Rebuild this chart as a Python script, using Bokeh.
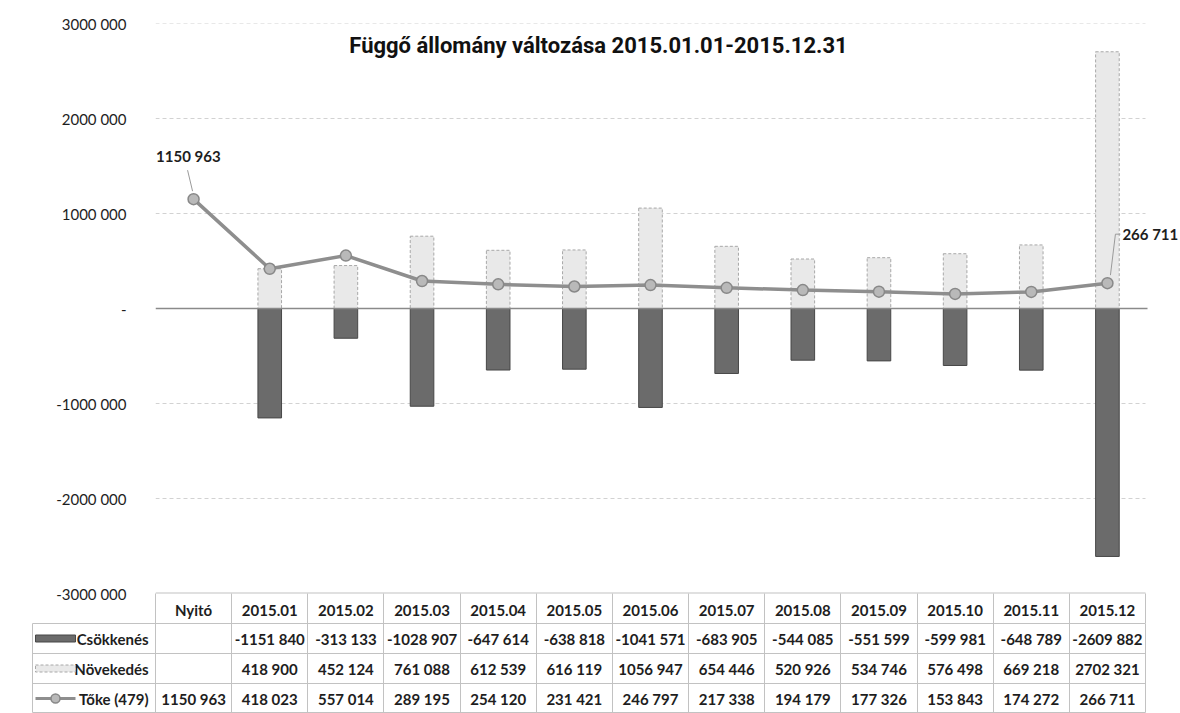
from bokeh.plotting import figure
from bokeh.models import FixedTicker, Range1d, Label, ColumnDataSource
from bokeh.embed import file_html
from bokeh.resources import INLINE
from bokeh.core.properties import value

# ---------------- data ----------------
categories = ["Nyitó", "2015.01", "2015.02", "2015.03", "2015.04", "2015.05", "2015.06",
              "2015.07", "2015.08", "2015.09", "2015.10", "2015.11", "2015.12"]
csokkenes = [None, -1151840, -313133, -1028907, -647614, -638818, -1041571,
             -683905, -544085, -551599, -599981, -648789, -2609882]
novekedes = [None, 418900, 452124, 761088, 612539, 616119, 1056947,
             654446, 520926, 534746, 576498, 669218, 2702321]
toke = [1150963, 418023, 557014, 289195, 254120, 231421, 246797,
        217338, 194179, 177326, 153843, 174272, 266711]
y_ticks = [-3000000, -2000000, -1000000, 0, 1000000, 2000000, 3000000]
y_tick_labels = ["-3000 000", "-2000 000", "-1000 000", "-", "1000 000", "2000 000", "3000 000"]
series_names = ["Csökkenés", "Növekedés", "Tőke (479)"]
title_text = "Függő állomány változása 2015.01.01-2015.12.31"


def fmt(v):
    if v is None:
        return ""
    s = "-" if v < 0 else ""
    a = abs(v)
    if a >= 1000:
        return f"{s}{a // 1000} {a % 1000:03d}"
    return f"{s}{a}"


# ---------------- layout constants ----------------
W = 1180
FRAME_L = 155          # left edge of category area
CAT_R = 1145           # right edge of category area
FRAME_T = 23
FRAME_B = 593
HEAD_H = 30            # header row (x-axis labels)
CHART_H = FRAME_B + HEAD_H
TABLE_H = 713 - CHART_H
LEG_L = 32
N = len(categories)
PX_CAT = (CAT_R - FRAME_L) / N
FRAME_H = FRAME_B - FRAME_T
Y0, Y1 = y_ticks[0], y_ticks[-1]
PX_VAL = FRAME_H / (Y1 - Y0)
X_END = -0.5 + (W - FRAME_L) / PX_CAT

FONT = "Lato"
TITLE_FONT = "Roboto"
TXT = "#1e1e1e"
BORDER = "#c2c2c2"

idx = list(range(N))
months = [i for i in idx if novekedes[i] is not None]
bar_src = ColumnDataSource(dict(
    x=months,
    nov=[novekedes[i] for i in months],
    cs=[csokkenes[i] for i in months],
))

# ---------------- chart ----------------
p = figure(width=W, height=CHART_H, output_backend="svg", toolbar_location=None,
           x_range=Range1d(-0.5, X_END), y_range=Range1d(Y0, Y1), title=None,
           min_border_left=FRAME_L, min_border_right=0,
           min_border_top=FRAME_T, min_border_bottom=HEAD_H)
p.outline_line_color = None
p.background_fill_color = "white"
p.border_fill_color = "white"

yt = FixedTicker(ticks=y_ticks, minor_ticks=[])
p.yaxis.ticker = yt
p.yaxis.major_label_overrides = {t: l for t, l in zip(y_ticks, y_tick_labels)}
p.yaxis.axis_line_color = None
p.yaxis.major_tick_line_color = None
p.yaxis.minor_tick_line_color = None
p.yaxis.major_tick_out = 0
p.yaxis.major_tick_in = 0
p.yaxis.major_label_standoff = 29
p.yaxis.major_label_text_font = FONT
p.yaxis.major_label_text_font_size = "15px"
p.yaxis.major_label_text_color = TXT

xt = FixedTicker(ticks=idx, minor_ticks=[i - 0.5 for i in range(N + 1)])
p.xaxis.ticker = xt
p.xaxis.major_label_overrides = {i: c for i, c in zip(idx, categories)}
p.xaxis.axis_line_color = None
p.xaxis.major_tick_line_color = None
p.xaxis.major_tick_out = 0
p.xaxis.major_tick_in = 0
p.xaxis.minor_tick_line_color = BORDER
p.xaxis.minor_tick_out = HEAD_H
p.xaxis.minor_tick_in = 0
p.xaxis.major_label_standoff = -(HEAD_H - 7)
p.xaxis.major_label_text_font = FONT
p.xaxis.major_label_text_font_size = "15px"
p.xaxis.major_label_text_font_style = "bold"
p.xaxis.major_label_text_color = TXT

p.grid.visible = False

# horizontal gridlines over the category area
grid_y = [v for v in y_ticks if v not in (0, Y0)]
p.segment(x0=[-0.5] * len(grid_y), x1=[N - 0.5] * len(grid_y), y0=grid_y, y1=grid_y,
          line_color="#d2d2d2", line_dash="4 3", line_width=1)

p.vbar(x="x", top="nov", bottom=0, width=0.31, source=bar_src,
       fill_color="#e9e9e9", line_color="#a8a8a8", line_dash="3 2", line_width=1)
p.vbar(x="x", top=0, bottom="cs", width=0.31, source=bar_src,
       fill_color="#6b6b6b", line_color="#474747", line_width=1)

# zero line and table header top border
p.segment(x0=[-0.5], x1=[N - 0.5 + 2 / PX_CAT], y0=[0], y1=[0],
          line_color="#8a8a8a", line_width=1.5)
p.segment(x0=[-0.5], x1=[N - 0.5], y0=[Y0], y1=[Y0], line_color=BORDER, line_width=2)

p.line(idx, toke, line_color="#8e8e8e", line_width=3.5)
p.scatter(idx, toke, size=11, fill_color="#b9b9b9", line_color="#888888", line_width=1.5)


def px2d(i, v, dx, dy):
    return i + dx / PX_CAT, v + dy / PX_VAL


# leader lines for the two data labels
a0 = px2d(0, toke[0], -6, 29)
a1 = px2d(0, toke[0], -1, 8)
b0 = px2d(N - 1, toke[-1], 13, 49)
b1 = px2d(N - 1, toke[-1], 8, 49)
b2 = px2d(N - 1, toke[-1], 3, 8)
p.multi_line(xs=[[a0[0], a1[0]], [b0[0], b1[0], b2[0]]],
             ys=[[a0[1], a1[1]], [b0[1], b1[1], b2[1]]],
             line_color="#9a9a9a", line_width=1)

p.add_layout(Label(x=0, y=toke[0], text=fmt(toke[0]), x_offset=27, y_offset=43,
                   text_align="right", text_baseline="middle", text_font=FONT,
                   text_font_size="15px", text_font_style="bold", text_color=TXT))
p.add_layout(Label(x=N - 1, y=toke[-1], text=fmt(toke[-1]), x_offset=15, y_offset=49,
                   text_align="left", text_baseline="middle", text_font=FONT,
                   text_font_size="15px", text_font_style="bold", text_color=TXT))

p.add_layout(Label(x=598 - FRAME_L, y=FRAME_B - 45, x_units="screen", y_units="screen",
                   text=title_text, text_align="center", text_baseline="middle",
                   text_font=TITLE_FONT, text_font_size="22px", text_font_style="bold",
                   text_color="#111111"))

# ---------------- data table ----------------
t_x0 = -0.5 - (FRAME_L - LEG_L) / PX_CAT
t = figure(width=W, height=TABLE_H, output_backend="svg", toolbar_location=None,
           x_range=Range1d(t_x0, N - 0.5), y_range=Range1d(3, 0), title=None,
           x_axis_location=None, y_axis_location=None,
           min_border_left=LEG_L, min_border_right=W - CAT_R, min_border_top=0, min_border_bottom=0)
t.outline_line_color = BORDER
t.background_fill_color = "white"
t.border_fill_color = "white"
t.xgrid.ticker = FixedTicker(ticks=[i - 0.5 for i in range(N + 1)], minor_ticks=[])
t.ygrid.ticker = FixedTicker(ticks=[0, 1, 2, 3], minor_ticks=[])
t.grid.grid_line_color = BORDER
t.grid.grid_line_width = 1

rows = [csokkenes, novekedes, toke]
tx, ty, tt = [], [], []
for r, series in enumerate(rows):
    for i in idx:
        tx.append(i)
        ty.append(r + 0.5)
        tt.append(fmt(series[i]))
t.text(x=tx, y=ty, text=tt, text_align="center", text_baseline="middle",
       text_font=value(FONT), text_font_size="15px", text_font_style="bold", text_color=TXT)

# legend column (keys + names)
name_x = -0.5 - 7 / PX_CAT
key_c = -0.5 - (FRAME_L - 55) / PX_CAT
key_l = -0.5 - (FRAME_L - 35) / PX_CAT
key_r = -0.5 - (FRAME_L - 75) / PX_CAT
t.text(x=[name_x] * 3, y=[0.5, 1.5, 2.5], text=series_names, text_align="right",
       text_baseline="middle", text_font=value(FONT), text_font_size="15px",
       text_font_style="bold", text_color=TXT)
t.rect(x=[key_c], y=[0.5], width=40, height=7, width_units="screen", height_units="screen",
       fill_color="#6b6b6b", line_color="#474747")
t.rect(x=[key_c], y=[1.5], width=40, height=7, width_units="screen", height_units="screen",
       fill_color="#e9e9e9", line_color="#a8a8a8", line_dash="3 2")
t.line([key_l, key_r], [2.5, 2.5], line_color="#8e8e8e", line_width=3)
t.scatter([key_c], [2.5], size=9, fill_color="#b9b9b9", line_color="#888888", line_width=1.5)

# two independent roots, stacked (keeps each figure's own frame borders)
open("out.html", "w").write(file_html([p, t], INLINE))
